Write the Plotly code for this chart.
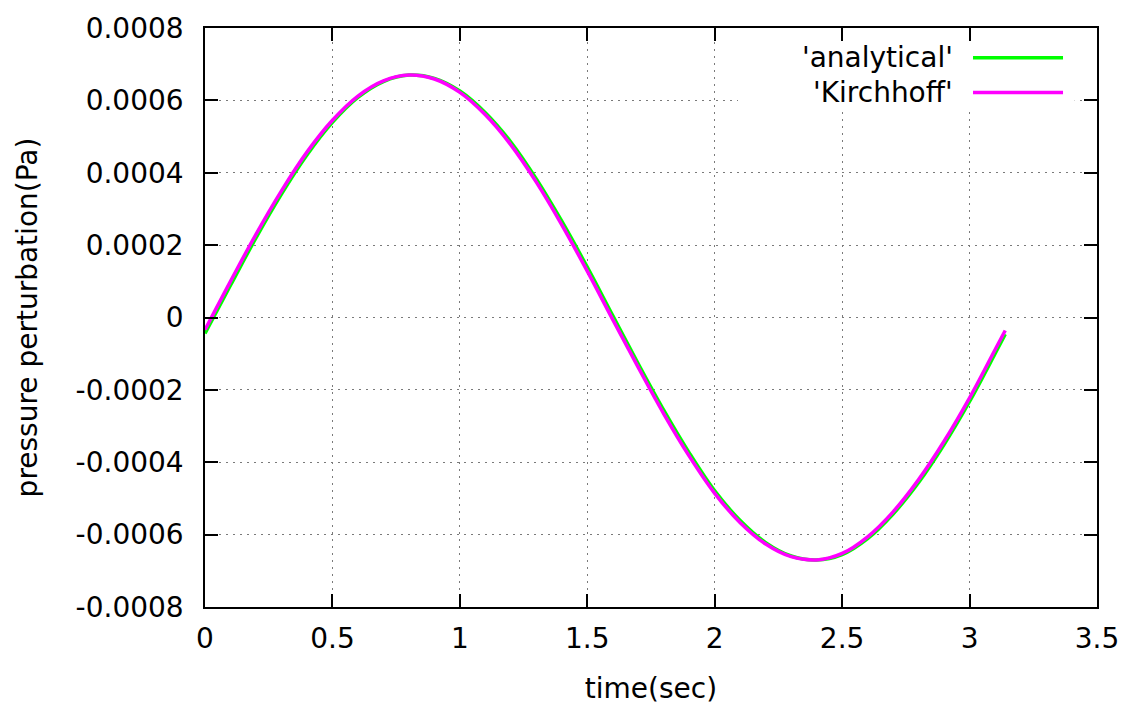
import plotly.graph_objects as go

time_sec = [0.0, 0.1, 0.2, 0.3, 0.4, 0.5, 0.6, 0.7, 0.8, 0.9, 1.0, 1.1, 1.2, 1.3, 1.4, 1.5,
            1.6, 1.7, 1.8, 1.9, 2.0, 2.1, 2.2, 2.3, 2.4, 2.5, 2.6, 2.7, 2.8, 2.9, 3.0, 3.1, 3.14]

analytical = [-0.000044, 0.000089, 0.000220, 0.000341, 0.000449, 0.000539, 0.000608, 0.000652,
              0.000670, 0.000661, 0.000626, 0.000566, 0.000485, 0.000383, 0.000266, 0.000139,
              0.000005, -0.000128, -0.000256, -0.000374, -0.000479, -0.000561, -0.000622,
              -0.000659, -0.000670, -0.000655, -0.000611, -0.000543, -0.000456, -0.000351,
              -0.000232, -0.000100, -0.000046]

kirchhoff = [-0.000034, 0.000100, 0.000230, 0.000350, 0.000457, 0.000545, 0.000612, 0.000654,
             0.000670, 0.000659, 0.000622, 0.000560, 0.000477, 0.000374, 0.000256, 0.000128,
             -0.000006, -0.000138, -0.000266, -0.000383, -0.000486, -0.000567, -0.000626,
             -0.000661, -0.000670, -0.000652, -0.000606, -0.000537, -0.000448, -0.000342,
             -0.000222, -0.000089, -0.000036]

x_tickvals = [0, 0.5, 1, 1.5, 2, 2.5, 3, 3.5]
x_ticktext = ["0", "0.5", "1", "1.5", "2", "2.5", "3", "3.5"]
y_tickvals = [-0.0008, -0.0006, -0.0004, -0.0002, 0, 0.0002, 0.0004, 0.0006, 0.0008]
y_ticktext = ["-0.0008", "-0.0006", "-0.0004", "-0.0002", "0", "0.0002", "0.0004", "0.0006", "0.0008"]

series_names = ["'analytical'", "'Kirchhoff'"]
series_colors = ["#00ff00", "#ff00ff"]

FONT = "DejaVu Sans"
FS = 28

fig = go.Figure()
fig.add_trace(go.Scatter(x=time_sec, y=analytical, mode="lines", name=series_names[0],
                         line=dict(color=series_colors[0], width=3.5, shape="spline")))
fig.add_trace(go.Scatter(x=time_sec, y=kirchhoff, mode="lines", name=series_names[1],
                         line=dict(color=series_colors[1], width=3.5, shape="spline")))

axis_common = dict(
    showline=True, linecolor="black", linewidth=1.5, mirror="ticks",
    ticks="inside", ticklen=13, tickwidth=1.5, tickcolor="black",
    showgrid=True, gridcolor="#7a7a7a", gridwidth=1.3, griddash="2px,5px",
    zeroline=False, tickfont=dict(family=FONT, size=FS, color="black"),
)

fig.update_xaxes(range=[0, 3.5], tickmode="array", tickvals=x_tickvals, ticktext=x_ticktext,
                 ticklabelstandoff=6,
                 title=dict(text="time(sec)", font=dict(family=FONT, size=FS, color="black"), standoff=24),
                 **axis_common)
fig.update_yaxes(range=[-0.0008, 0.0008], tickmode="array", tickvals=y_tickvals, ticktext=y_ticktext,
                 ticklabelstandoff=14,
                 title=dict(text="pressure perturbation(Pa)", font=dict(family=FONT, size=FS, color="black"),
                            standoff=30),
                 **axis_common)

# gnuplot-style key: opaque box, text right-aligned left of line sample
shapes = [dict(type="rect", xref="paper", yref="paper", x0=0.5975, x1=0.975, y0=0.8576, y1=0.976,
               fillcolor="white", line=dict(width=0), layer="above")]
annotations = []
key_y = [0.9485, 0.8885]
for name, color, ky in zip(series_names, series_colors, key_y):
    shapes.append(dict(type="line", xref="paper", yref="paper", x0=0.861, x1=0.9619, y0=ky, y1=ky,
                       line=dict(color=color, width=3.5), layer="above"))
    annotations.append(dict(xref="paper", yref="paper", x=0.8408, y=ky, xanchor="right", yanchor="middle",
                            text=name, showarrow=False, font=dict(family=FONT, size=FS, color="black")))

fig.update_layout(
    width=1131, height=711,
    margin=dict(l=205, r=34, t=24, b=104),
    paper_bgcolor="white", plot_bgcolor="white",
    showlegend=False,
    shapes=shapes, annotations=annotations,
    font=dict(family=FONT, size=FS, color="black"),
)

fig.write_html("out.html")
